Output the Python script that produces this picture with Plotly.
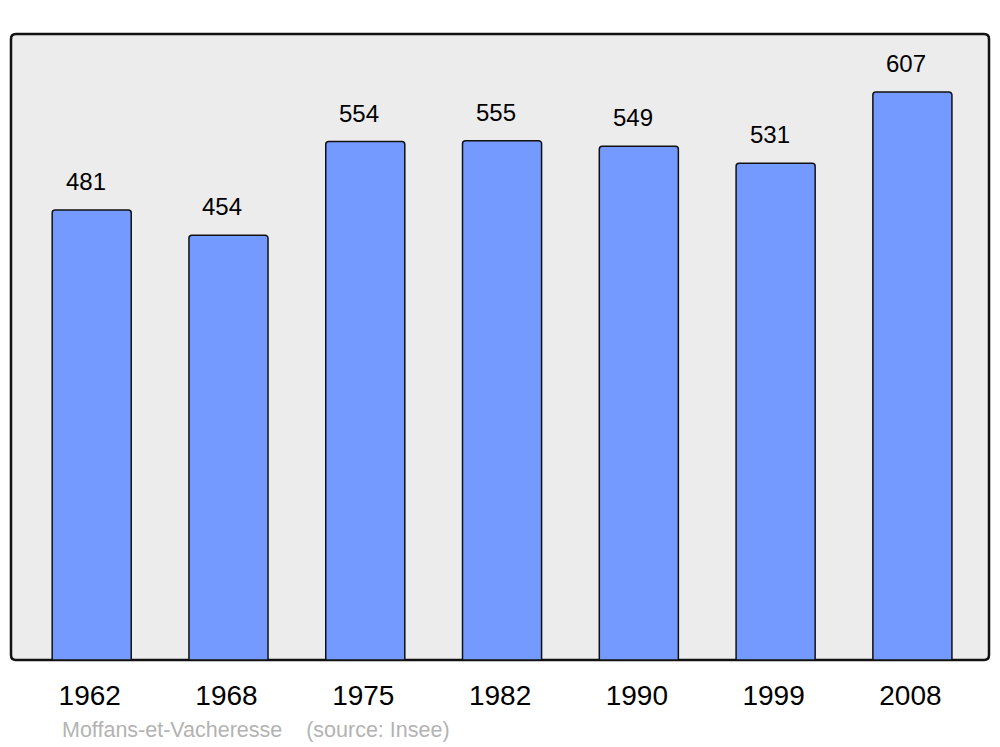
import plotly.graph_objects as go

years = ["1962", "1968", "1975", "1982", "1990", "1999", "2008"]
population = [481, 454, 554, 555, 549, 531, 607]
commune = "Moffans-et-Vacheresse"
source = "(source: Insee)"

# page body has an 8px margin; figure occupies 992x739 starting at (8,8)
OFF = 8
W, H = 1000 - OFF, 747 - OFF
L, R, T, B = 11 - OFF, 11, 34 - OFF, 87
pw, ph = W - L - R, H - T - B

fig = go.Figure()
fig.add_trace(go.Bar(
    x=years, y=population, width=0.578,
    marker=dict(color="#7499ff", line=dict(color="#111111", width=1.5), cornerradius=3),
    hoverinfo="x+y",
))

for i, v in enumerate(population):
    fig.add_annotation(x=i, y=v, text=str(v), showarrow=False, yanchor="bottom",
                       yshift=13, xshift=-6, font=dict(size=24, color="#000000", family="Liberation Sans, Arial"))

# rounded frame
rx, ry = 5 / pw, 5 / ph
path = (f"M {rx},0 L {1-rx},0 Q 1,0 1,{ry} L 1,{1-ry} Q 1,1 {1-rx},1 "
        f"L {rx},1 Q 0,1 0,{1-ry} L 0,{ry} Q 0,0 {rx},0 Z")
fig.add_shape(type="path", path=path, xref="paper", yref="paper",
              fillcolor="#ececec", line=dict(color="#111111", width=2.5), layer="below")

fig.add_annotation(xref="paper", yref="paper", x=(60 - 11) / pw, y=-(730 - 660) / ph,
                   xanchor="left", yanchor="middle", showarrow=False,
                   text=f"{commune}&nbsp;&nbsp;&nbsp;&nbsp;{source}",
                   font=dict(size=21.5, color="#b3b3b3", family="Liberation Sans, Arial"))

fig.update_layout(
    width=W, height=H,
    margin=dict(l=L, r=R, t=T, b=B),
    paper_bgcolor="white", plot_bgcolor="rgba(0,0,0,0)",
    showlegend=False,
    font=dict(family="Liberation Sans, Arial", color="#000000"),
    xaxis=dict(type="category", range=[-0.59, 6.56], showgrid=False, zeroline=False,
               showline=False, ticks="", tickfont=dict(size=28), ticklabelstandoff=16,
               ticklabelshift=-2),
    yaxis=dict(range=[0, 669], visible=False),
)

fig.write_html("out.html")
